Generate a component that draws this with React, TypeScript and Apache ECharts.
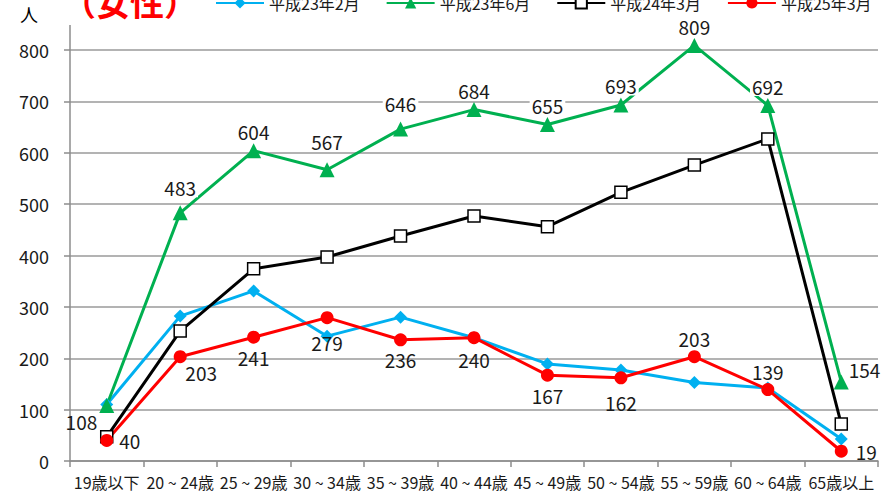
import React, { useEffect, useRef } from "react";
import * as echarts from "echarts";

const categories = ["19歳以下", "20 ~ 24歳", "25 ~ 29歳", "30 ~ 34歳", "35 ~ 39歳", "40 ~ 44歳", "45 ~ 49歳", "50 ~ 54歳", "55 ~ 59歳", "60 ~ 64歳", "65歳以上"];
const seriesNames = ["平成23年2月", "平成23年6月", "平成24年3月", "平成25年3月"];
const h23feb = [110, 282, 331, 243, 280, 240, 189, 177, 153, 142, 43];
const h23jun = [108, 483, 604, 567, 646, 684, 655, 693, 809, 692, 154];
const h24mar = [47, 253, 374, 397, 438, 477, 456, 523, 576, 627, 72];
const h25mar = [40, 203, 241, 279, 236, 240, 167, 162, 203, 139, 19];
const yTicks = [0, 100, 200, 300, 400, 500, 600, 700, 800];

const FONT = "'Noto Sans CJK JP', sans-serif";

export default function App() {
  const ref = useRef<HTMLDivElement>(null);
  useEffect(() => {
    const chart = echarts.init(ref.current!, null, { renderer: "svg" });
    const labelStyle = { show: true, fontSize: 19, color: "#1a1a1a", fontFamily: FONT };
    const greenLift: Record<number, number> = { 1: -6, 3: -9, 4: -7 };
    const greenLabels = h23jun.map((v, i) => {
      let label: any = { ...labelStyle, position: "top", distance: 2, backgroundColor: "#fff", padding: [0, 2], offset: [0, greenLift[i] || 0] };
      if (i === 0) label = { ...label, position: "left", offset: [2, 16], backgroundColor: "transparent" };
      if (i === h23jun.length - 1) label = { ...label, position: "right", offset: [-4, -12], backgroundColor: "transparent" };
      return { value: v, label };
    });
    const redDrop: Record<number, number> = { 3: 5, 5: 2, 7: 5 };
    const redLabels = h25mar.map((v, i) => {
      let label: any = { ...labelStyle, position: "bottom", distance: 4, offset: [0, redDrop[i] || 0] };
      if (i === 0) label = { ...labelStyle, position: "right", distance: 6 };
      if (i === 1) label = { ...label, offset: [21, -4] };
      if (i === 8 || i === 9) label = { ...labelStyle, position: "top", distance: 2 };
      if (i === h25mar.length - 1) label = { ...labelStyle, position: "right", distance: 8 };
      return { value: v, label };
    });
    chart.setOption({
      animation: false,
      textStyle: { fontFamily: FONT },
      grid: { left: 70, right: 8, top: 50, bottom: 37, containLabel: false },
      legend: {
        top: -10,
        left: 210,
        width: 700,
        itemWidth: 48,
        itemHeight: 14,
        itemGap: 26,
        textStyle: { fontSize: 16, color: "#1a1a1a", fontFamily: FONT },
        data: seriesNames,
      },
      xAxis: {
        type: "category",
        data: categories,
        boundaryGap: true,
        axisLine: { lineStyle: { color: "#8c8c8c", width: 1.5 } },
        axisTick: { show: true, length: 6, lineStyle: { color: "#8c8c8c", width: 1.5 } },
        axisLabel: { interval: 0, fontSize: 16, color: "#1a1a1a", margin: 13, fontFamily: FONT },
      },
      yAxis: {
        type: "value",
        min: 0,
        max: yTicks[yTicks.length - 1],
        interval: 100,
        axisLine: { show: true, lineStyle: { color: "#8c8c8c", width: 1.5 } },
        axisTick: { show: true, length: 6, lineStyle: { color: "#8c8c8c", width: 1.5 } },
        splitLine: { lineStyle: { color: "#9a9a9a", width: 1.5 } },
        axisLabel: { fontSize: 18, color: "#1a1a1a", margin: 21, fontFamily: FONT },
      },
      graphic: [
        { type: "line", shape: { x1: 70, y1: 25, x2: 70, y2: 50 }, style: { stroke: "#8c8c8c", lineWidth: 1.5 } },
        { type: "text", left: 20, top: 5, style: { text: "人", fontSize: 18, fill: "#000", fontFamily: FONT } },
        { type: "text", left: 62, top: -16, style: { text: "（女性）", fontSize: 34, fontWeight: "bold", fill: "#ff0000", fontFamily: FONT } },
      ],
      series: [
        {
          name: seriesNames[0], type: "line", data: h23feb, clip: false,
          symbol: "diamond", symbolSize: 13,
          itemStyle: { color: "#00b0f0" }, lineStyle: { color: "#00b0f0", width: 3 },
        },
        {
          name: seriesNames[1], type: "line", data: greenLabels, clip: false,
          symbol: "triangle", symbolSize: 15,
          itemStyle: { color: "#00b050" }, lineStyle: { color: "#00b050", width: 3 },
        },
        {
          name: seriesNames[2], type: "line", data: h24mar, clip: false,
          symbol: "rect", symbolSize: 12,
          itemStyle: { color: "#ffffff", borderColor: "#000", borderWidth: 1.5 }, lineStyle: { color: "#000", width: 3 },
        },
        {
          name: seriesNames[3], type: "line", data: redLabels, clip: false,
          symbol: "circle", symbolSize: 13,
          itemStyle: { color: "#ff0000" }, lineStyle: { color: "#ff0000", width: 3 },
        },
      ],
    });
    return () => chart.dispose();
  }, []);
  return <div ref={ref} style={{ position: "absolute", left: 0, top: 0, width: 886, height: 498 }} />;
}
